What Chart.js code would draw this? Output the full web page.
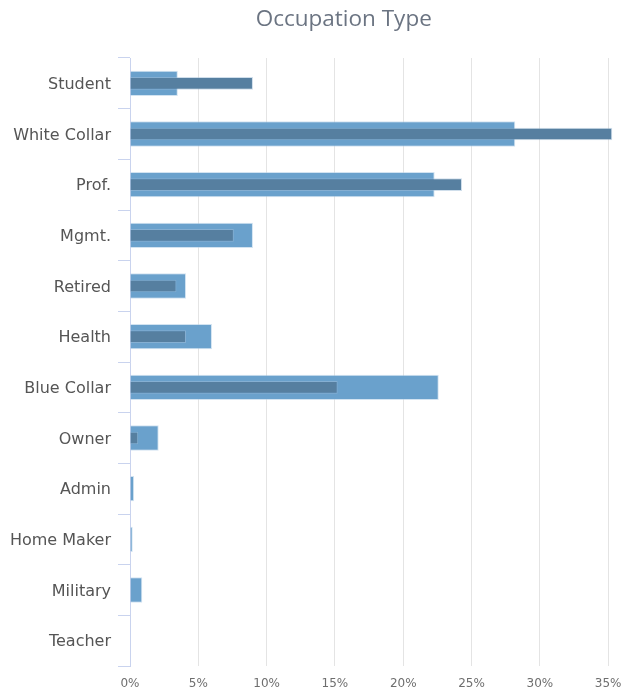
<!DOCTYPE html>
<html>
<head>
<meta charset="utf-8">
<script src="https://cdn.jsdelivr.net/npm/chart.js@4/dist/chart.umd.min.js"></script>
<style>
  html, body { margin: 0; padding: 0; background: #fff; }
  #wrap { width: 625px; height: 694px; }
</style>
</head>
<body>
<div id="wrap"><canvas id="c" width="625" height="694"></canvas></div>
<script>
// Occupation shares, in percent
const categories = ['Student', 'White Collar', 'Prof.', 'Mgmt.', 'Retired', 'Health',
  'Blue Collar', 'Owner', 'Admin', 'Home Maker', 'Military', 'Teacher'];
const widePct = [3.5, 28.2, 22.3, 9.0, 4.1, 6.0, 22.6, 2.1, 0.3, 0.2, 0.9, 0];
const narrowPct = [9.0, 35.3, 24.3, 7.6, 3.4, 4.1, 15.2, 0.6, 0, 0, 0, 0];
const xTickValues = [0, 5, 10, 15, 20, 25, 30, 35];
const chartTitle = 'Occupation Type';

const LABEL_FONT = '"DejaVu Sans", sans-serif';
const TITLE_FONT = '"Open Sans", "DejaVu Sans", sans-serif';

// Title drawn a little right of the canvas centre
const titlePlugin = {
  id: 'offsetTitle',
  afterDraw(chart) {
    const ctx = chart.ctx;
    ctx.save();
    ctx.font = '22.5px ' + TITLE_FONT;
    ctx.fillStyle = '#6b7482';
    ctx.textAlign = 'center';
    ctx.textBaseline = 'middle';
    ctx.fillText(chartTitle, chart.width * 0.55, 20);
    ctx.restore();
  }
};

new Chart(document.getElementById('c'), {
  type: 'bar',
  data: {
    labels: categories,
    datasets: [
      {
        data: narrowPct,
        backgroundColor: '#567fa0',
        borderColor: 'rgba(160,190,215,0.5)',
        borderWidth: 1,
        barPercentage: 0.25,
        categoryPercentage: 1,
        grouped: false,
        order: 0
      },
      {
        data: widePct,
        backgroundColor: '#6aa1cc',
        borderColor: 'rgba(180,208,232,0.6)',
        borderWidth: 1,
        barPercentage: 0.5,
        categoryPercentage: 1,
        grouped: false,
        order: 1
      }
    ]
  },
  options: {
    indexAxis: 'y',
    responsive: false,
    animation: false,
    layout: { padding: { top: 58, right: 10, left: 0, bottom: 0 } },
    plugins: {
      legend: { display: false },
      title: { display: false },
      tooltip: { enabled: false }
    },
    scales: {
      x: {
        min: 0,
        max: 35.5,
        afterBuildTicks(scale) {
          scale.ticks = xTickValues.map(v => ({ value: v }));
        },
        afterFit(scale) {
          scale.height = 28;
          scale.paddingRight = 0;
        },
        border: { display: false },
        grid: { color: '#e4e4e4', drawTicks: false, lineWidth: 1 },
        ticks: {
          padding: 11,
          color: '#6e6e6e',
          font: { family: LABEL_FONT, size: 12 },
          callback: v => v + '%'
        }
      },
      y: {
        afterFit(scale) { scale.width = 130; },
        border: { display: true, color: '#c9d3ee', width: 1 },
        grid: { drawOnChartArea: false, tickLength: 12, color: '#c9d3ee' },
        ticks: {
          padding: 7,
          labelOffset: 1.5,
          color: '#555',
          font: { family: LABEL_FONT, size: 16 }
        }
      }
    }
  },
  plugins: [titlePlugin]
});
</script>
</body>
</html>
